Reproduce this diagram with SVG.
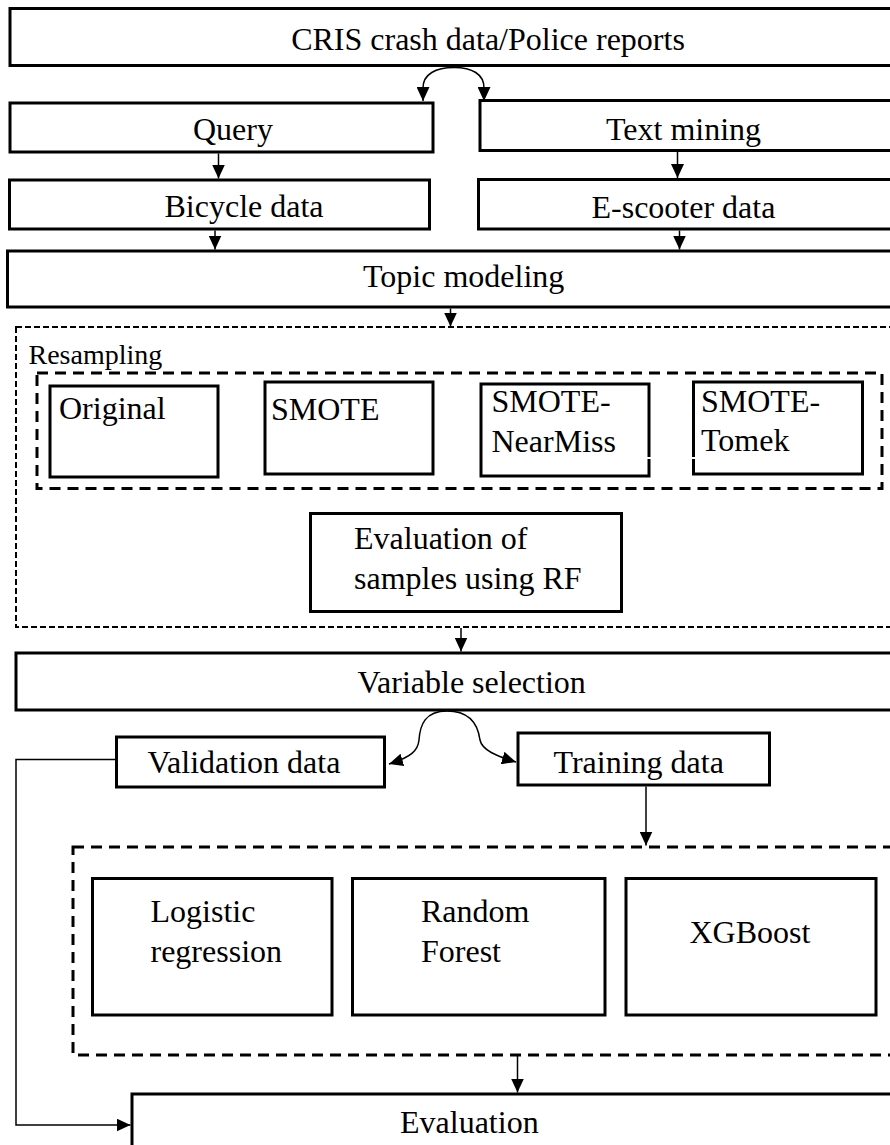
<svg xmlns="http://www.w3.org/2000/svg" width="890" height="1145" viewBox="0 0 890 1145">
  <defs>
    <marker id="arrow" markerWidth="14" markerHeight="13" refX="14" refY="6.5" orient="auto" markerUnits="userSpaceOnUse">
      <path d="M0,0 L14,6.5 L0,13 z" fill="#000"/>
    </marker>
  </defs>
  <style>
    .box { fill: #fff; stroke: #000; stroke-width: 3; }
    .dash-thin { fill: none; stroke: #000; stroke-width: 2; stroke-dasharray: 6 3; }
    .dash-thick { fill: none; stroke: #000; stroke-width: 3; stroke-dasharray: 11 7; }
    .link { fill: none; stroke: #000; stroke-width: 1.5; marker-end: url(#arrow); }
    text { font-family: "Liberation Serif", "Times New Roman", serif; font-size: 32px; fill: #000; }
    .small { font-size: 28px; }
  </style>
  <rect width="890" height="1145" fill="#fff"/>

  <!-- group containers -->
  <g id="resampling">
    <rect class="dash-thin" x="16" y="327" width="900" height="300"/>
    <text class="small" x="28.5" y="363.5">Resampling</text>
    <rect class="dash-thick" x="37" y="373" width="845" height="115.5"/>
  </g>
  <g id="models">
    <rect class="dash-thick" x="73" y="847" width="840" height="208"/>
  </g>

  <!-- nodes -->
  <g id="cris">
    <rect class="box" x="10" y="8.5" width="900" height="57"/>
    <text x="488" y="50" text-anchor="middle">CRIS crash data/Police reports</text>
  </g>
  <g id="query">
    <rect class="box" x="10" y="103" width="423" height="49"/>
    <text x="193" y="139.5">Query</text>
  </g>
  <g id="text-mining">
    <rect class="box" x="480" y="100.5" width="430" height="50"/>
    <text x="606" y="140">Text mining</text>
  </g>
  <g id="bicycle">
    <rect class="box" x="9.5" y="180" width="420" height="49"/>
    <text x="164.5" y="217">Bicycle data</text>
  </g>
  <g id="escooter">
    <rect class="box" x="478.5" y="179.5" width="432" height="49.5"/>
    <text x="591.5" y="217.5">E-scooter data</text>
  </g>
  <g id="topic">
    <rect class="box" x="7.5" y="251" width="910" height="56"/>
    <text x="363" y="287">Topic modeling</text>
  </g>
  <g id="original">
    <rect class="box" x="50" y="386" width="168" height="91"/>
    <text x="59" y="419">Original</text>
  </g>
  <g id="smote">
    <rect class="box" x="265" y="382" width="168" height="92"/>
    <text x="271" y="420">SMOTE</text>
  </g>
  <g id="smote-nearmiss">
    <rect class="box" x="481" y="384" width="168" height="92"/>
    <text x="491.5" y="411.5">SMOTE-</text>
    <text x="491.5" y="451.5">NearMiss</text>
  </g>
  <g id="smote-tomek">
    <rect class="box" x="693.5" y="382" width="169" height="92"/>
    <text x="701" y="411.5">SMOTE-</text>
    <text x="701" y="451">Tomek</text>
  </g>
  <!-- small white gap across the two neighbouring borders -->
  <line x1="646" y1="458" x2="697" y2="458" stroke="#fff" stroke-width="2"/>
  <g id="rf-eval">
    <rect class="box" x="310.5" y="513.5" width="311" height="98"/>
    <text x="354" y="548.5">Evaluation of</text>
    <text x="354" y="588.5">samples using RF</text>
  </g>
  <g id="variable-selection">
    <rect class="box" x="16" y="653" width="900" height="57"/>
    <text x="357.5" y="693">Variable selection</text>
  </g>
  <g id="validation">
    <rect class="box" x="116.5" y="737" width="268" height="50"/>
    <text x="147.5" y="773">Validation data</text>
  </g>
  <g id="training">
    <rect class="box" x="518" y="733" width="251.5" height="52"/>
    <text x="553.5" y="772.5">Training data</text>
  </g>
  <g id="logistic">
    <rect class="box" x="92.5" y="878.5" width="239.5" height="136.5"/>
    <text x="150.5" y="921.5">Logistic</text>
    <text x="150.5" y="961.5">regression</text>
  </g>
  <g id="random-forest">
    <rect class="box" x="352.5" y="878.5" width="252.5" height="136.5"/>
    <text x="421" y="921.5">Random</text>
    <text x="421" y="961.5">Forest</text>
  </g>
  <g id="xgboost">
    <rect class="box" x="626" y="878.5" width="250" height="136.5"/>
    <text x="689.5" y="943">XGBoost</text>
  </g>
  <g id="evaluation">
    <rect class="box" x="132" y="1094" width="800" height="70"/>
    <text x="400" y="1133">Evaluation</text>
  </g>

  <!-- connectors -->
  <g id="connectors">
    <path class="link" d="M454,67.5 C436,67.5 423,74 423,88 L423,101"/>
    <path class="link" d="M454,67.5 C472,67.5 484,74 484,88 L484,101"/>
    <line class="link" x1="218.5" y1="153.5" x2="218.5" y2="178.5"/>
    <line class="link" x1="677.5" y1="152" x2="677.5" y2="178"/>
    <line class="link" x1="215" y1="230.5" x2="215" y2="249.5"/>
    <line class="link" x1="679.5" y1="230.5" x2="679.5" y2="249.5"/>
    <line class="link" x1="450.5" y1="308.5" x2="450.5" y2="326.5"/>
    <line class="link" x1="461" y1="628" x2="461" y2="651.5"/>
    <path class="link" d="M447,711 C425,711 420,725 419,740 C418,750 412,757 389,764"/>
    <path class="link" d="M447,711 C470,711 478,725 480,740 C482,750 496,756 516,762"/>
    <line class="link" x1="646" y1="786.5" x2="646" y2="845.5"/>
    <line class="link" x1="517.5" y1="1056" x2="517.5" y2="1092.5"/>
    <polyline class="link" points="116,759.5 16,759.5 16,1125 130.5,1125"/>
  </g>
</svg>
